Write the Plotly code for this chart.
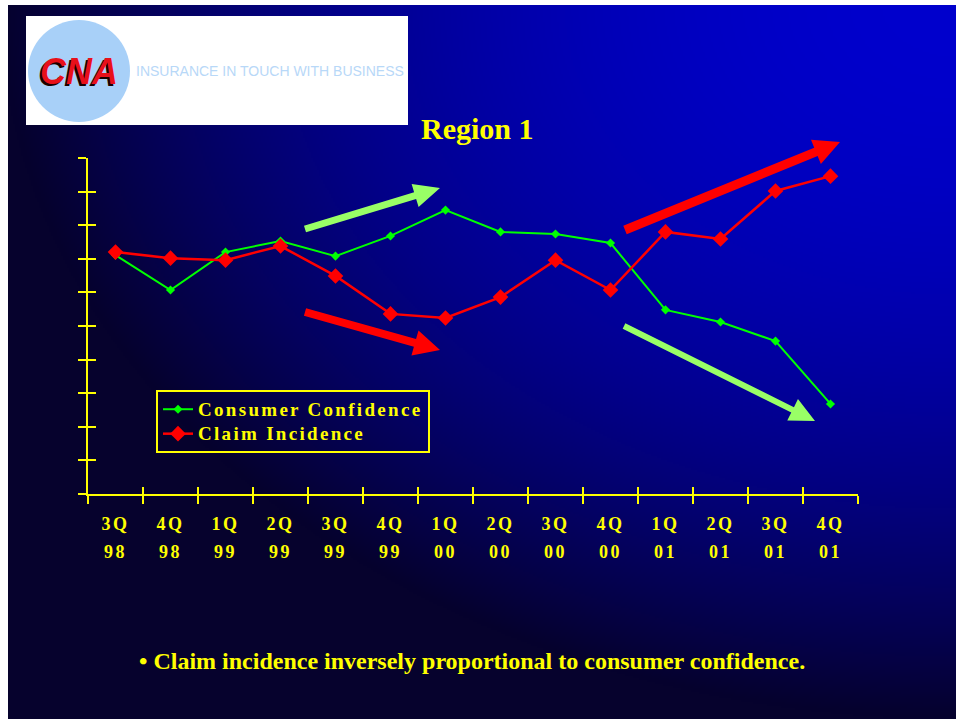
import base64
import math
import struct
import zlib

import numpy as np
import plotly.graph_objects as go

# ---- data -------------------------------------------------------------
quarter_names = ["3Q", "4Q", "1Q", "2Q", "3Q", "4Q", "1Q", "2Q", "3Q", "4Q", "1Q", "2Q", "3Q", "4Q"]
year_names = ["98", "98", "99", "99", "99", "99", "00", "00", "00", "00", "01", "01", "01", "01"]
consumer_confidence = [71.1, 60.7, 72.0, 75.3, 70.8, 76.8, 84.5, 78.0, 77.4, 74.7, 54.8, 51.2, 45.5, 26.8]
claim_incidence = [72.0, 70.2, 69.6, 73.8, 64.9, 53.6, 52.4, 58.6, 69.6, 60.7, 78.0, 75.9, 90.2, 94.6]
y_tick_values = list(range(0, 101, 10))

categories = [f"{q} {y}" for q, y in zip(quarter_names, year_names)]

# ---- page geometry ----------------------------------------------------
W, H = 956, 719
L, R, T, B = 88, 98, 158, 225
PW, PH = W - L - R, H - T - B
YELLOW = "#FFFF00"
SERIF = "Liberation Serif, Times New Roman, serif"
SANS = "Liberation Sans, Arial, sans-serif"


def px(x):
    return (x - L) / PW


def py(y):
    return (H - B - y) / PH


def png_data_uri(rgb):
    h, w, _ = rgb.shape
    raw = b"".join(b"\x00" + rgb[i].tobytes() for i in range(h))

    def chunk(tag, data):
        return (struct.pack(">I", len(data)) + tag + data
                + struct.pack(">I", zlib.crc32(tag + data) & 0xFFFFFFFF))

    png = (b"\x89PNG\r\n\x1a\n"
           + chunk(b"IHDR", struct.pack(">IIBBBBB", w, h, 8, 2, 0, 0, 0))
           + chunk(b"IDAT", zlib.compress(raw, 9))
           + chunk(b"IEND", b""))
    return "data:image/png;base64," + base64.b64encode(png).decode()


# slide background: blue glow from the top-right corner fading to navy
gx = np.linspace(8, W, 474)
gy = np.linspace(5, H, 357)
XX, YY = np.meshgrid(gx, gy)
t = np.sqrt(((W - XX) / W) ** 2 + (YY / H) ** 2)
f = np.clip(1 - t ** 2, 0, 1)
rgb = np.zeros(XX.shape + (3,), dtype=np.uint8)
rgb[..., 0] = (6 * (1 - f)).astype(np.uint8)
rgb[..., 1] = (2 * (1 - f)).astype(np.uint8)
rgb[..., 2] = (45 + 160 * f).astype(np.uint8)
background_uri = png_data_uri(rgb)


def arrow_path(x0, y0, x1, y1, shaft, head_len, head_w):
    d = math.hypot(x1 - x0, y1 - y0)
    ux, uy = (x1 - x0) / d, (y1 - y0) / d
    nx, ny = -uy, ux
    bx, by = x1 - ux * head_len, y1 - uy * head_len
    s, hw = shaft / 2, head_w / 2
    pts = [
        (x0 + nx * s, y0 + ny * s),
        (bx + nx * s, by + ny * s),
        (bx + nx * hw, by + ny * hw),
        (x1, y1),
        (bx - nx * hw, by - ny * hw),
        (bx - nx * s, by - ny * s),
        (x0 - nx * s, y0 - ny * s),
    ]
    return "M " + " L ".join(f"{px(a):.5f},{py(b):.5f}" for a, b in pts) + " Z"


def spaced(text, size, spacing):
    return f'<span style="font-size:{size}px;letter-spacing:{spacing}px">{text}</span>'


tick_text = [spaced(q, 18, 2.5) + "<br>" + spaced(y, 18, 2.5) for q, y in zip(quarter_names, year_names)]

fig = go.Figure()
fig.add_trace(go.Scatter(
    x=categories, y=consumer_confidence, mode="lines+markers",
    name=spaced("Consumer Confidence", 19, 2.3),
    line=dict(color="#00FF00", width=2),
    marker=dict(symbol="diamond", size=7, color="#00FF00"),
))
fig.add_trace(go.Scatter(
    x=categories, y=claim_incidence, mode="lines+markers",
    name=spaced("Claim Incidence", 19, 2.3),
    line=dict(color="#FF0000", width=2.5),
    marker=dict(symbol="diamond", size=12, color="#FF0000"),
))
# companion axes that carry the inner half of the crossing tick marks
fig.add_trace(go.Scatter(x=[], y=[], xaxis="x2", yaxis="y2", showlegend=False, hoverinfo="skip"))

axis_common = dict(showgrid=False, zeroline=False, tickcolor=YELLOW, tickwidth=2)

fig.update_layout(
    width=W, height=H,
    margin=dict(l=L, r=R, t=T, b=B, autoexpand=False),
    paper_bgcolor="white",
    plot_bgcolor="rgba(0,0,0,0)",
    showlegend=True,
    xaxis=dict(
        type="category", categoryorder="array", categoryarray=categories,
        range=[-0.5, len(categories) - 0.5],
        tickmode="array", tickvals=categories, ticktext=tick_text,
        tickson="boundaries", ticks="outside", ticklen=8,
        showline=True, linecolor=YELLOW, linewidth=2,
        tickfont=dict(family=SERIF, size=21.5, color=YELLOW, weight="bold"),
        ticklabelstandoff=8,
        **axis_common,
    ),
    xaxis2=dict(
        overlaying="x", anchor="y2", range=[-0.5, len(categories) - 0.5],
        tickmode="array", tickvals=[i - 0.5 for i in range(len(categories) + 1)],
        ticks="inside", ticklen=7, showticklabels=False, showline=False,
        **axis_common,
    ),
    yaxis=dict(
        range=[0, 100], tickmode="array", tickvals=y_tick_values,
        ticks="outside", ticklen=8, showticklabels=False,
        showline=True, linecolor=YELLOW, linewidth=2,
        **axis_common,
    ),
    yaxis2=dict(
        overlaying="y", anchor="x2", range=[0, 100], tickmode="array",
        tickvals=y_tick_values, ticks="inside", ticklen=8,
        showticklabels=False, showline=False,
        **axis_common,
    ),
    legend=dict(
        x=px(156), y=py(390), xanchor="left", yanchor="top",
        bgcolor="rgba(0,0,0,0)", bordercolor=YELLOW, borderwidth=2,
        font=dict(family=SERIF, size=16.5, color=YELLOW, weight="bold"),
        tracegroupgap=0,
    ),
    images=[dict(
        source=background_uri, xref="paper", yref="paper",
        x=px(8), y=py(5), sizex=(W - 8) / PW, sizey=(H - 5) / PH,
        xanchor="left", yanchor="top", sizing="stretch", layer="below",
    )],
)

# logo panel
fig.add_shape(type="rect", xref="paper", yref="paper",
              x0=px(26), x1=px(408), y0=py(125), y1=py(16),
              fillcolor="white", line=dict(width=0))
fig.add_shape(type="circle", xref="paper", yref="paper",
              x0=px(28), x1=px(130), y0=py(122), y1=py(20),
              fillcolor="#A8D0F8", line=dict(width=0))
fig.add_annotation(text="CNA", xref="paper", yref="paper", x=px(79), y=py(71),
                   showarrow=False, xanchor="center", yanchor="middle",
                   font=dict(family=SANS, size=36, color="#E8101A", weight="bold",
                             style="italic", shadow="-2px 2px 0px #1a0000"))
fig.add_annotation(text="INSURANCE IN TOUCH WITH BUSINESS", xref="paper", yref="paper",
                   x=px(270), y=py(71), showarrow=False, xanchor="center", yanchor="middle",
                   font=dict(family=SANS, size=14, color="#B8D8F8"))

# trend arrows
arrows = [
    ((305, 229, 440, 188, 7, 26, 24), "#99FF66"),
    ((305, 312, 440, 350, 8, 26, 26), "#FF0000"),
    ((625, 230, 840, 142, 9, 26, 26), "#FF0000"),
    ((624, 326, 815, 421, 6, 25, 24), "#99FF66"),
]
for spec, colour in arrows:
    fig.add_shape(type="path", xref="paper", yref="paper", path=arrow_path(*spec),
                  fillcolor=colour, line=dict(width=0))

# heading and caption
fig.add_annotation(text="Region 1", xref="paper", yref="paper", x=px(477), y=py(128),
                   showarrow=False, xanchor="center", yanchor="middle",
                   font=dict(family=SERIF, size=30, color=YELLOW, weight="bold"))
fig.add_annotation(text="• Claim incidence inversely proportional to consumer confidence.",
                   xref="paper", yref="paper", x=px(472), y=py(661),
                   showarrow=False, xanchor="center", yanchor="middle",
                   font=dict(family=SERIF, size=24, color=YELLOW, weight="bold"))

fig.write_html("out.html")
